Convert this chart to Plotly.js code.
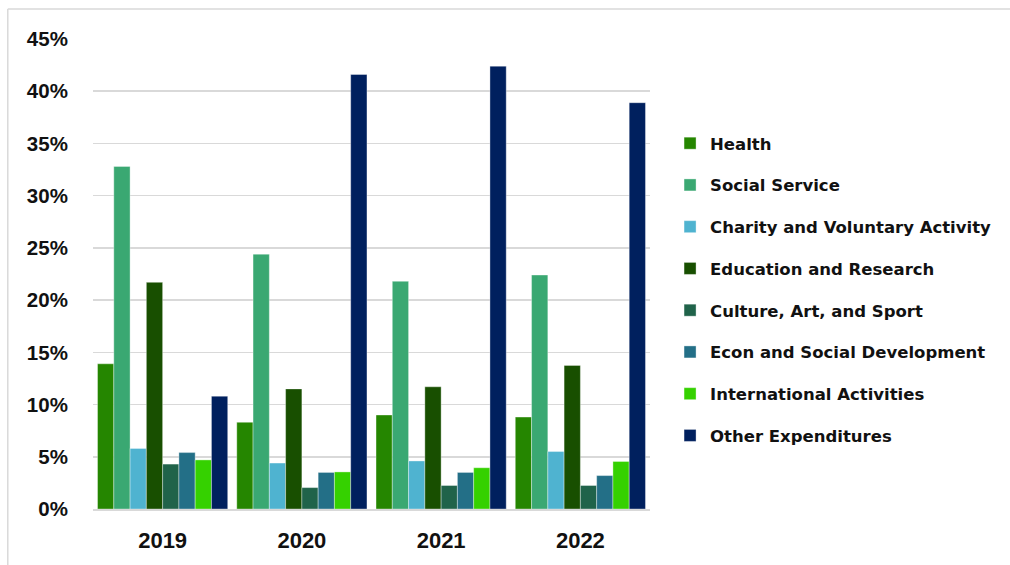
<!DOCTYPE html>
<html>
<head>
<meta charset="utf-8">
<script src="https://cdn.plot.ly/plotly-3.0.1.min.js"></script>
<style>
html,body{margin:0;padding:0;background:#fff;}
#chart{width:1010px;height:565px;}
</style>
</head>
<body>
<div id="chart"></div>
<script>
const years = ['2019', '2020', '2021', '2022'];
const seriesNames = ['Health', 'Social Service', 'Charity and Voluntary Activity', 'Education and Research',
  'Culture, Art, and Sport', 'Econ and Social Development', 'International Activities', 'Other Expenditures'];
const health = [13.9, 8.3, 9.0, 8.8];
const socialService = [32.8, 24.4, 21.8, 22.4];
const charity = [5.8, 4.4, 4.6, 5.5];
const education = [21.7, 11.5, 11.7, 13.75];
const culture = [4.3, 2.05, 2.25, 2.25];
const econ = [5.4, 3.5, 3.5, 3.2];
const international = [4.7, 3.55, 3.95, 4.55];
const other = [10.8, 41.6, 42.4, 38.9];
const colors = ['#258600', '#3AA872', '#4FB3D0', '#184F00', '#20634A', '#236F87', '#35D100', '#00205E'];

const values = [health, socialService, charity, education, culture, econ, international, other];
const traces = values.map((v, i) => ({
  type: 'bar',
  name: seriesNames[i],
  x: years,
  y: v,
  legendgroup: 'g' + i,
  marker: {color: colors[i], line: {color: 'rgba(255,255,255,0.6)', width: 0.6}},
  hovertemplate: '%{x}: %{y}%<extra>' + seriesNames[i] + '</extra>'
}));

const fontFam = 'Liberation Sans, Arial, sans-serif';
const legendFam = 'DejaVu Sans, Liberation Sans, sans-serif';
const layout = {
  width: 1010, height: 565,
  margin: {l: 93, r: 360, t: 39, b: 56},
  paper_bgcolor: '#fff', plot_bgcolor: '#fff',
  barmode: 'group', bargap: 0.065, bargroupgap: 0,
  showlegend: true,
  legend: {
    x: 1.036, xanchor: 'left', y: 0.815, yanchor: 'top',
    font: {family: legendFam, size: 16.5, color: '#111', weight: 'bold'},
    tracegroupgap: 17.3, itemwidth: 30,
    bgcolor: 'rgba(0,0,0,0)'
  },
  xaxis: {
    type: 'category',
    tickfont: {family: fontFam, size: 22, color: '#111', weight: 'bold'},
    ticks: 'outside', ticklen: 11, tickcolor: 'rgba(0,0,0,0)',
    showline: true, linecolor: '#d9d9d9', linewidth: 1.5,
    showgrid: false, fixedrange: true
  },
  yaxis: {
    range: [0, 45], dtick: 5, tick0: 0,
    ticksuffix: '%',
    tickfont: {family: fontFam, size: 20.5, color: '#111', weight: 'bold'},
    ticks: 'outside', ticklen: 20, tickcolor: 'rgba(0,0,0,0)',
    showgrid: true, gridcolor: '#d9d9d9', gridwidth: 1.5,
    zeroline: false, showline: false, fixedrange: true
  },
  shapes: [
    {type: 'line', xref: 'paper', yref: 'paper', x0: -0.153, x1: 1.7, y0: 1.064, y1: 1.064,
     line: {color: '#d9d9d9', width: 1.5}},
    {type: 'line', xref: 'paper', yref: 'paper', x0: -0.153, x1: -0.153, y0: 1.064, y1: -0.13,
     line: {color: '#d9d9d9', width: 1.5}}
  ]
};

Plotly.newPlot('chart', traces, layout, {displayModeBar: false, staticPlot: true});
</script>
</body>
</html>
